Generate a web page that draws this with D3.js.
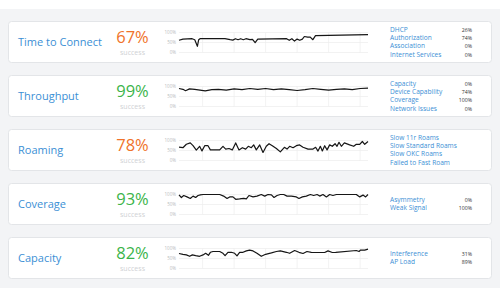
<!DOCTYPE html>
<html>
<head>
<meta charset="utf-8">
<script src="https://cdn.jsdelivr.net/npm/d3@7"></script>
<style>
  body { margin: 0; background: #fff; font-family: "Open Sans", sans-serif; }
</style>
</head>
<body>
<svg id="chart" width="500" height="300"></svg>
<script>
// Metric rows
const metric_names = ["Time to Connect", "Throughput", "Roaming", "Coverage", "Capacity"];
const success_rates = [67, 99, 78, 93, 82];

// Chart ticks (x in hours, y in percent)
const hour_ticks = [18, 42, 66, 90, 114, 138];
const value_ticks = [0, 50, 100];
const value_tick_labels = ["0%", "50%", "100%"];

// Series: [hour, success %]
const time_to_connect = [[0,61],[3,67],[10,69],[12,64],[14,31],[15,64],[16,69],[35,69],[39,64],[41,62],[43,69],[45,64],[47,69],[49,64],[51,69],[54,64],[56,66],[58,49],[60,67],[82,69],[84,61],[86,69],[88,57],[90,67],[92,61],[94,67],[95.5,80],[98,77],[100,77],[102,64],[104,84],[144,89]];
const throughput = [[0,90],[3,86],[5,79],[8,88],[12,86],[16,82],[20,78],[25,84],[30,86],[36,82],[42,88],[48,84],[54,90],[60,86],[66,90],[72,84],[78,88],[84,84],[90,80],[96,84],[102,90],[108,86],[114,82],[120,86],[126,88],[132,84],[138,90],[144,92]];
const roaming = [[0,67],[3,64],[5.6,81],[8.6,88],[10.7,74],[13.2,52],[15.7,71],[17.5,48],[19.6,74],[22.1,74],[23.9,53],[31,53],[33.5,71],[35.6,57],[38.1,60],[40.6,53],[43.2,88],[45.7,53],[48.3,64],[50.8,57],[52.8,71],[55.1,64],[56.9,78],[58.9,53],[61.5,78],[64,40],[66.5,71],[68.6,84],[71.1,74],[74.2,60],[77.2,43],[80.3,66],[82.3,57],[84.3,71],[86.9,64],[89.4,74],[91.9,78],[94.5,66],[98.3,57],[102.1,57],[104.1,66],[105.9,47],[107.7,71],[109.2,48],[111,74],[112.8,53],[114.8,78],[116.8,71],[118.9,84],[120.4,71],[121.9,91],[123.7,71],[126,88],[130,78],[133.1,71],[135.1,81],[137.7,81],[139.7,95],[141.5,81],[144,95]];
const coverage = [[0,98],[1.8,85],[3.6,95],[6.1,88],[8.6,80],[10.7,92],[12.7,85],[14.5,95],[16.3,98],[18.3,100],[31,100],[34,92],[36.6,80],[38.6,88],[41.1,88],[43.2,76],[46.2,78],[49.3,81],[51.3,78],[53.3,95],[56.4,88],[59.4,92],[62.7,100],[65.3,92],[67.8,100],[70.4,98],[72.4,85],[74.7,95],[77.2,100],[79.8,100],[82.3,92],[85.6,92],[89.4,88],[91.4,80],[94,88],[97,92],[100.1,100],[102.6,95],[105.2,100],[107.2,92],[109.7,100],[112.3,88],[114.8,100],[117.3,95],[119.9,100],[122.4,100],[135.1,100],[137.7,88],[140.2,97],[142.2,88],[144,100]];
const capacity = [[0,75],[3,71],[5.6,68],[8.1,61],[10.2,68],[12.7,64],[15.7,61],[18.3,68],[20.3,76],[22.4,66],[23.9,81],[25.9,85],[31,85],[33.5,76],[35.1,64],[37.3,81],[39.9,81],[42.4,76],[44.2,63],[46.2,81],[48.8,81],[51.3,88],[53.8,92],[56.4,88],[59.4,76],[62.7,61],[66,71],[70.4,78],[74.2,85],[77.2,88],[81.8,81],[84.3,76],[88.1,90],[91.4,81],[94.5,75],[97.5,85],[100.8,81],[104.6,80],[111,80],[113.5,88],[116.8,80],[119.4,81],[135.1,90],[137.2,85],[138.2,92],[141.5,92],[144,97]];
const metric_series = [time_to_connect, throughput, roaming, coverage, capacity];

// Failure reasons per metric
const reason_labels = [
  ["DHCP", "Authorization", "Association", "Internet Services"],
  ["Capacity", "Device Capability", "Coverage", "Network Issues"],
  ["Slow 11r Roams", "Slow Standard Roams", "Slow OKC Roams", "Failed to Fast Roam"],
  ["Asymmetry", "Weak Signal"],
  ["Interference", "AP Load"]
];
const reason_values = [
  ["26%", "74%", "0%", "0%"],
  ["0%", "74%", "100%", "0%"],
  [],
  ["0%", "100%"],
  ["31%", "89%"]
];

const card_top = 21.5, card_step = 54, card_height = 41;
const svg = d3.select("#chart");

svg.append("rect")
    .attr("x", 0).attr("y", 9)
    .attr("width", 500).attr("height", 279)
    .attr("fill", "#f3f4f6");

const x_scale = d3.scaleLinear().domain([0, 144]).range([179, 368]);
const y_scale = d3.scaleLinear().domain([0, 100]).range([31, 11]);
const line = d3.line()
    .x(d => x_scale(d[0]))
    .y(d => y_scale(d[1]));

const cards = svg.selectAll("g.card")
    .data(metric_names)
    .join("g")
    .attr("class", "card")
    .attr("transform", (d, i) => `translate(0, ${card_top + i * card_step})`);

cards.append("rect")
    .attr("x", 8.5).attr("y", 0)
    .attr("width", 483).attr("height", card_height)
    .attr("rx", 3)
    .attr("fill", "#fff")
    .attr("stroke", "#e3e5e8");

cards.append("text")
    .attr("x", 18).attr("y", card_height / 2 + 4)
    .attr("font-size", 11)
    .attr("fill", "#3b8fd5")
    .text(d => d);

cards.append("text")
    .attr("x", 132.5).attr("y", 21.5)
    .attr("text-anchor", "middle")
    .attr("font-size", 16.5)
    .attr("fill", (d, i) => success_rates[i] >= 80 ? "#3bb44a" : "#f0732a")
    .text((d, i) => success_rates[i] + "%");

cards.append("text")
    .attr("x", 132.5).attr("y", 33)
    .attr("text-anchor", "middle")
    .attr("font-size", 7)
    .attr("fill", "#cfd1d4")
    .text("success");

cards.each(function(d, i) {
    const g = d3.select(this);

    // grid
    g.append("g").selectAll("line")
        .data(value_ticks)
        .join("line")
        .attr("x1", x_scale(0)).attr("x2", x_scale(144))
        .attr("y1", v => y_scale(v)).attr("y2", v => y_scale(v))
        .attr("stroke", "#ececec").attr("stroke-width", 0.7);
    g.append("g").selectAll("line")
        .data(hour_ticks)
        .join("line")
        .attr("x1", h => x_scale(h)).attr("x2", h => x_scale(h))
        .attr("y1", y_scale(100)).attr("y2", y_scale(0))
        .attr("stroke", "#ececec").attr("stroke-width", 0.7);
    g.append("g").selectAll("text")
        .data(value_ticks)
        .join("text")
        .attr("x", 176).attr("y", v => y_scale(v) + 1.6)
        .attr("text-anchor", "end")
        .attr("font-size", 4.5)
        .attr("fill", "#b9bcc0")
        .text((v, k) => value_tick_labels[k]);

    g.append("path")
        .datum(metric_series[i])
        .attr("d", line)
        .attr("fill", "none")
        .attr("stroke", "#161616")
        .attr("stroke-width", 1.2)
        .attr("stroke-linejoin", "round");

    // reasons list
    const labels = reason_labels[i];
    const row_y = k => card_height / 2 + (k - (labels.length - 1) / 2) * 8.3 + 2.2;
    g.append("g").selectAll("text")
        .data(labels)
        .join("text")
        .attr("x", 390).attr("y", (t, k) => row_y(k))
        .attr("font-size", 6.6)
        .attr("fill", "#3b8fd5")
        .text(t => t);
    g.append("g").selectAll("text")
        .data(reason_values[i])
        .join("text")
        .attr("x", 472).attr("y", (t, k) => row_y(k))
        .attr("text-anchor", "end")
        .attr("font-size", 5.2)
        .attr("fill", "#333")
        .text(t => t);
});
</script>
</body>
</html>
